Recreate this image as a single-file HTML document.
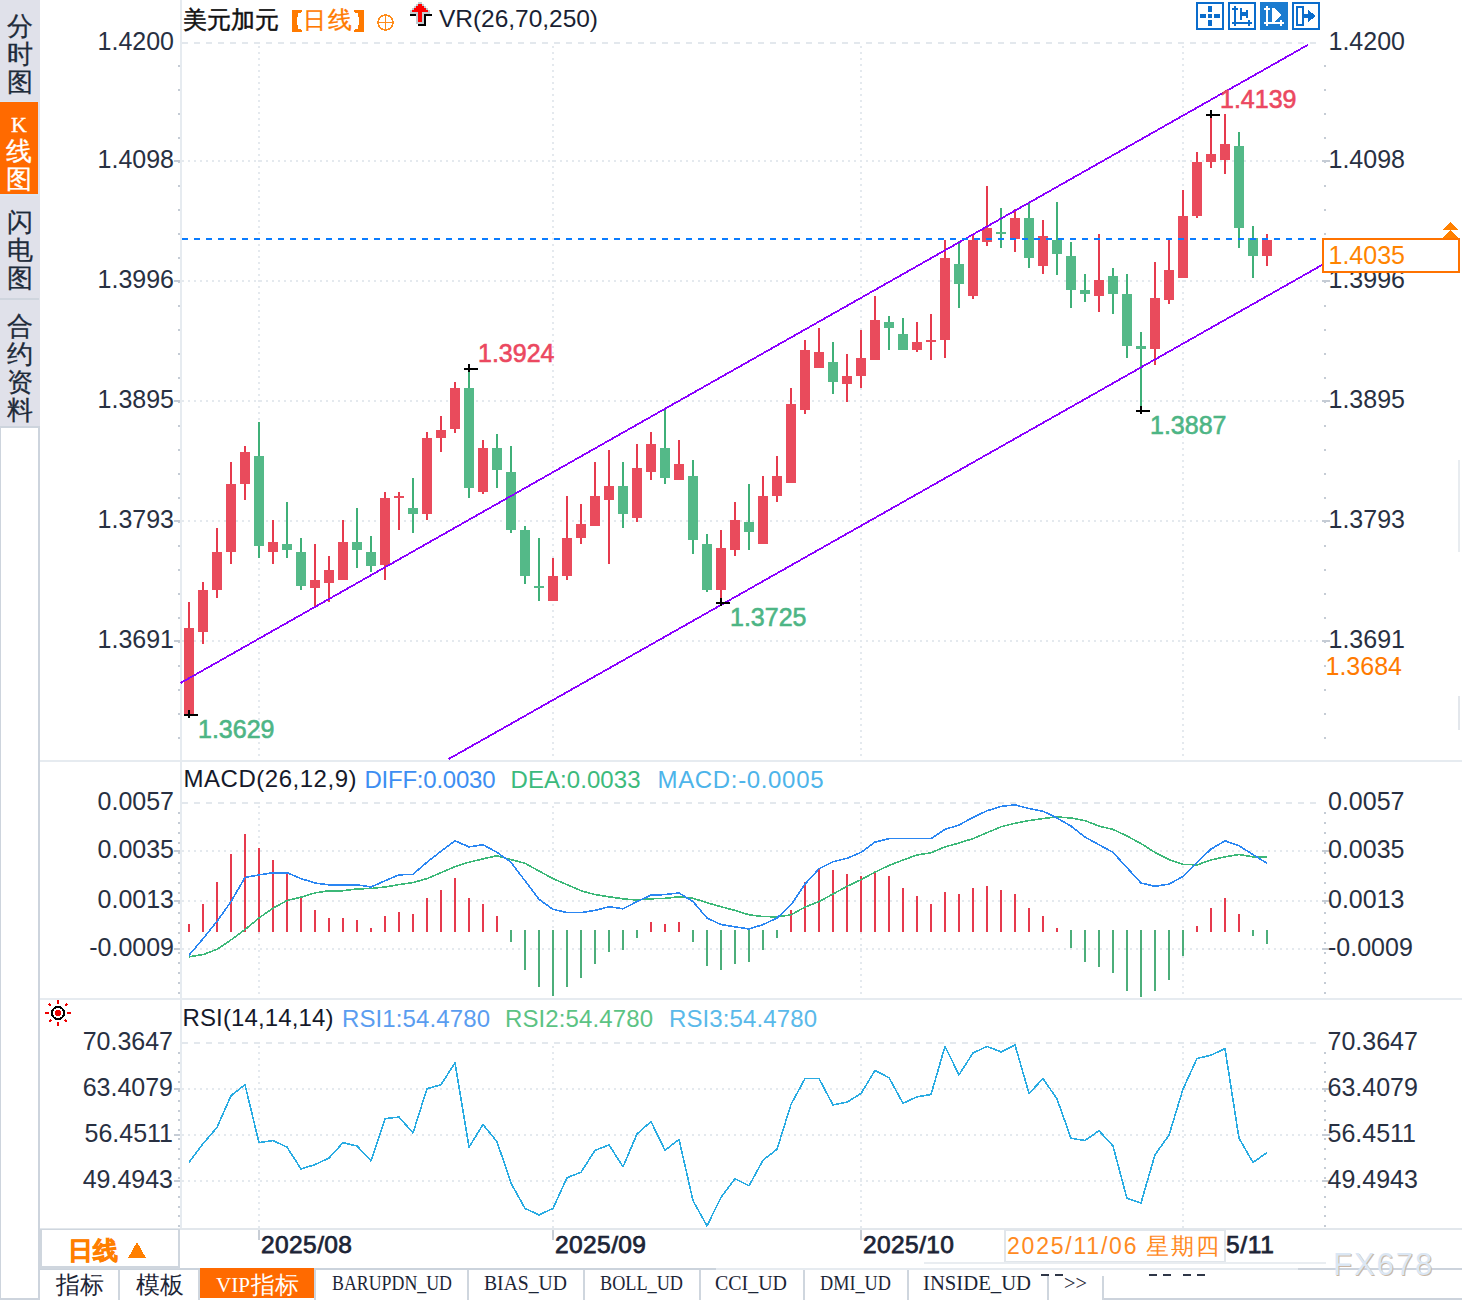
<!DOCTYPE html>
<html><head><meta charset="utf-8">
<style>
html,body{margin:0;padding:0;background:#fff;width:1462px;height:1300px;overflow:hidden;}
body{position:relative;font-family:"Liberation Sans",sans-serif;}
.a{position:absolute;}
.side{position:absolute;left:0;width:40px;background:#e0e1ea;color:#1e2b3a;-webkit-text-stroke:0.3px;font-size:25.5px;line-height:28px;text-align:center;}
.tab{position:absolute;top:1270px;height:29px;font-size:23px;line-height:29px;color:#1c2536;text-align:center;border-left:2px solid #cfd5dd;box-sizing:border-box;}
.mono{font-family:"Liberation Mono",monospace;font-size:20px;}
</style></head><body>
<div class="a" style="left:0;top:0;width:40px;height:426px;background:#e0e1ea"></div>
<div class="side" style="top:0;height:101px;"><div style="padding-top:12px">分<br>时<br>图</div></div>
<div class="a" style="left:0;top:101px;width:39px;height:1px;background:#dce6f2"></div>
<div class="side" style="top:102px;height:92px;width:38px;background:#ff6a00;color:#fff;"><div style="padding-top:10px;font-family:'Liberation Serif';font-size:22px;line-height:26px;">K</div><div style="line-height:28px;margin-top:-1px">线<br>图</div></div>
<div class="a" style="left:0;top:194px;width:39px;height:2px;background:#dce6f2"></div>
<div class="side" style="top:196px;height:102px;"><div style="padding-top:12px">闪<br>电<br>图</div></div>
<div class="a" style="left:0;top:298px;width:39px;height:2px;background:#cfd5de"></div>
<div class="side" style="top:300px;height:126px;"><div style="padding-top:12px">合<br>约<br>资<br>料</div></div>
<div class="a" style="left:0;top:426px;width:40px;height:874px;background:#cdd4dd"></div>
<div class="a" style="left:1px;top:428px;width:37px;height:870px;background:#fff"></div>
<svg class="a" style="left:0;top:0" width="1462" height="1300" shape-rendering="crispEdges">
<rect x="40" y="760" width="1422" height="2" fill="#e6ebf0"/>
<rect x="40" y="998" width="1422" height="2" fill="#e6ebf0"/>
<rect x="40" y="1228" width="1422" height="2" fill="#e2e7ec"/>
<rect x="180" y="0" width="2" height="1228" fill="#e6ebf0"/>
<line x1="182" y1="43" x2="1322" y2="43" stroke="#e3e8ed" stroke-width="2" stroke-dasharray="6 6"/>
<line x1="182" y1="161" x2="1322" y2="161" stroke="#e4e9ee" stroke-width="2" stroke-dasharray="2 4"/>
<line x1="182" y1="281" x2="1322" y2="281" stroke="#e4e9ee" stroke-width="2" stroke-dasharray="2 4"/>
<line x1="182" y1="401" x2="1322" y2="401" stroke="#e4e9ee" stroke-width="2" stroke-dasharray="2 4"/>
<line x1="182" y1="521" x2="1322" y2="521" stroke="#e4e9ee" stroke-width="2" stroke-dasharray="2 4"/>
<line x1="182" y1="641" x2="1322" y2="641" stroke="#e4e9ee" stroke-width="2" stroke-dasharray="2 4"/>
<line x1="182" y1="803" x2="1322" y2="803" stroke="#e3e8ed" stroke-width="2" stroke-dasharray="6 6"/>
<line x1="182" y1="851" x2="1322" y2="851" stroke="#e4e9ee" stroke-width="2" stroke-dasharray="2 4"/>
<line x1="182" y1="901" x2="1322" y2="901" stroke="#e4e9ee" stroke-width="2" stroke-dasharray="2 4"/>
<line x1="182" y1="949" x2="1322" y2="949" stroke="#e4e9ee" stroke-width="2" stroke-dasharray="2 4"/>
<line x1="182" y1="1043" x2="1322" y2="1043" stroke="#e3e8ed" stroke-width="2" stroke-dasharray="6 6"/>
<line x1="182" y1="1089" x2="1322" y2="1089" stroke="#e4e9ee" stroke-width="2" stroke-dasharray="2 4"/>
<line x1="182" y1="1135" x2="1322" y2="1135" stroke="#e4e9ee" stroke-width="2" stroke-dasharray="2 4"/>
<line x1="182" y1="1181" x2="1322" y2="1181" stroke="#e4e9ee" stroke-width="2" stroke-dasharray="2 4"/>
<line x1="259" y1="46" x2="259" y2="760" stroke="#e4e9ee" stroke-width="2" stroke-dasharray="2 4"/>
<line x1="259" y1="806" x2="259" y2="998" stroke="#e4e9ee" stroke-width="2" stroke-dasharray="2 4"/>
<line x1="259" y1="1046" x2="259" y2="1228" stroke="#e4e9ee" stroke-width="2" stroke-dasharray="2 4"/>
<line x1="553" y1="46" x2="553" y2="760" stroke="#e4e9ee" stroke-width="2" stroke-dasharray="2 4"/>
<line x1="553" y1="806" x2="553" y2="998" stroke="#e4e9ee" stroke-width="2" stroke-dasharray="2 4"/>
<line x1="553" y1="1046" x2="553" y2="1228" stroke="#e4e9ee" stroke-width="2" stroke-dasharray="2 4"/>
<line x1="861" y1="46" x2="861" y2="760" stroke="#e4e9ee" stroke-width="2" stroke-dasharray="2 4"/>
<line x1="861" y1="806" x2="861" y2="998" stroke="#e4e9ee" stroke-width="2" stroke-dasharray="2 4"/>
<line x1="861" y1="1046" x2="861" y2="1228" stroke="#e4e9ee" stroke-width="2" stroke-dasharray="2 4"/>
<line x1="1183" y1="46" x2="1183" y2="760" stroke="#e4e9ee" stroke-width="2" stroke-dasharray="2 4"/>
<line x1="1183" y1="806" x2="1183" y2="998" stroke="#e4e9ee" stroke-width="2" stroke-dasharray="2 4"/>
<line x1="1183" y1="1046" x2="1183" y2="1228" stroke="#e4e9ee" stroke-width="2" stroke-dasharray="2 4"/>
<rect x="174" y="160" width="6" height="2" fill="#c5ccd5"/>
<rect x="174" y="280" width="6" height="2" fill="#c5ccd5"/>
<rect x="174" y="400" width="6" height="2" fill="#c5ccd5"/>
<rect x="174" y="520" width="6" height="2" fill="#c5ccd5"/>
<rect x="174" y="640" width="6" height="2" fill="#c5ccd5"/>
<rect x="174" y="850" width="6" height="2" fill="#c5ccd5"/>
<rect x="174" y="900" width="6" height="2" fill="#c5ccd5"/>
<rect x="174" y="948" width="6" height="2" fill="#c5ccd5"/>
<rect x="174" y="1088" width="6" height="2" fill="#c5ccd5"/>
<rect x="174" y="1134" width="6" height="2" fill="#c5ccd5"/>
<rect x="174" y="1180" width="6" height="2" fill="#c5ccd5"/>
<rect x="178" y="65" width="2" height="2" fill="#c5ccd5"/>
<rect x="178" y="89" width="2" height="2" fill="#c5ccd5"/>
<rect x="178" y="113" width="2" height="2" fill="#c5ccd5"/>
<rect x="178" y="137" width="2" height="2" fill="#c5ccd5"/>
<rect x="178" y="161" width="2" height="2" fill="#c5ccd5"/>
<rect x="178" y="185" width="2" height="2" fill="#c5ccd5"/>
<rect x="178" y="209" width="2" height="2" fill="#c5ccd5"/>
<rect x="178" y="233" width="2" height="2" fill="#c5ccd5"/>
<rect x="178" y="257" width="2" height="2" fill="#c5ccd5"/>
<rect x="178" y="281" width="2" height="2" fill="#c5ccd5"/>
<rect x="178" y="305" width="2" height="2" fill="#c5ccd5"/>
<rect x="178" y="329" width="2" height="2" fill="#c5ccd5"/>
<rect x="178" y="353" width="2" height="2" fill="#c5ccd5"/>
<rect x="178" y="377" width="2" height="2" fill="#c5ccd5"/>
<rect x="178" y="401" width="2" height="2" fill="#c5ccd5"/>
<rect x="178" y="425" width="2" height="2" fill="#c5ccd5"/>
<rect x="178" y="449" width="2" height="2" fill="#c5ccd5"/>
<rect x="178" y="473" width="2" height="2" fill="#c5ccd5"/>
<rect x="178" y="497" width="2" height="2" fill="#c5ccd5"/>
<rect x="178" y="521" width="2" height="2" fill="#c5ccd5"/>
<rect x="178" y="545" width="2" height="2" fill="#c5ccd5"/>
<rect x="178" y="569" width="2" height="2" fill="#c5ccd5"/>
<rect x="178" y="593" width="2" height="2" fill="#c5ccd5"/>
<rect x="178" y="617" width="2" height="2" fill="#c5ccd5"/>
<rect x="178" y="641" width="2" height="2" fill="#c5ccd5"/>
<rect x="178" y="665" width="2" height="2" fill="#c5ccd5"/>
<rect x="178" y="689" width="2" height="2" fill="#c5ccd5"/>
<rect x="178" y="713" width="2" height="2" fill="#c5ccd5"/>
<rect x="178" y="737" width="2" height="2" fill="#c5ccd5"/>
<rect x="178" y="812" width="2" height="2" fill="#c5ccd5"/>
<rect x="178" y="822" width="2" height="2" fill="#c5ccd5"/>
<rect x="178" y="832" width="2" height="2" fill="#c5ccd5"/>
<rect x="178" y="842" width="2" height="2" fill="#c5ccd5"/>
<rect x="178" y="852" width="2" height="2" fill="#c5ccd5"/>
<rect x="178" y="862" width="2" height="2" fill="#c5ccd5"/>
<rect x="178" y="872" width="2" height="2" fill="#c5ccd5"/>
<rect x="178" y="882" width="2" height="2" fill="#c5ccd5"/>
<rect x="178" y="892" width="2" height="2" fill="#c5ccd5"/>
<rect x="178" y="902" width="2" height="2" fill="#c5ccd5"/>
<rect x="178" y="912" width="2" height="2" fill="#c5ccd5"/>
<rect x="178" y="922" width="2" height="2" fill="#c5ccd5"/>
<rect x="178" y="932" width="2" height="2" fill="#c5ccd5"/>
<rect x="178" y="942" width="2" height="2" fill="#c5ccd5"/>
<rect x="178" y="952" width="2" height="2" fill="#c5ccd5"/>
<rect x="178" y="962" width="2" height="2" fill="#c5ccd5"/>
<rect x="178" y="972" width="2" height="2" fill="#c5ccd5"/>
<rect x="178" y="982" width="2" height="2" fill="#c5ccd5"/>
<rect x="178" y="992" width="2" height="2" fill="#c5ccd5"/>
<rect x="178" y="1052" width="2" height="2" fill="#c5ccd5"/>
<rect x="178" y="1061.6" width="2" height="2" fill="#c5ccd5"/>
<rect x="178" y="1071.1999999999998" width="2" height="2" fill="#c5ccd5"/>
<rect x="178" y="1080.7999999999997" width="2" height="2" fill="#c5ccd5"/>
<rect x="178" y="1090.3999999999996" width="2" height="2" fill="#c5ccd5"/>
<rect x="178" y="1099.9999999999995" width="2" height="2" fill="#c5ccd5"/>
<rect x="178" y="1109.5999999999995" width="2" height="2" fill="#c5ccd5"/>
<rect x="178" y="1119.1999999999994" width="2" height="2" fill="#c5ccd5"/>
<rect x="178" y="1128.7999999999993" width="2" height="2" fill="#c5ccd5"/>
<rect x="178" y="1138.3999999999992" width="2" height="2" fill="#c5ccd5"/>
<rect x="178" y="1147.999999999999" width="2" height="2" fill="#c5ccd5"/>
<rect x="178" y="1157.599999999999" width="2" height="2" fill="#c5ccd5"/>
<rect x="178" y="1167.199999999999" width="2" height="2" fill="#c5ccd5"/>
<rect x="178" y="1176.7999999999988" width="2" height="2" fill="#c5ccd5"/>
<rect x="178" y="1186.3999999999987" width="2" height="2" fill="#c5ccd5"/>
<rect x="178" y="1195.9999999999986" width="2" height="2" fill="#c5ccd5"/>
<rect x="178" y="1205.5999999999985" width="2" height="2" fill="#c5ccd5"/>
<rect x="178" y="1215.1999999999985" width="2" height="2" fill="#c5ccd5"/>
<rect x="178" y="1224.7999999999984" width="2" height="2" fill="#c5ccd5"/>
<rect x="1322" y="160" width="8" height="2" fill="#c5ccd5"/>
<rect x="1322" y="280" width="8" height="2" fill="#c5ccd5"/>
<rect x="1322" y="400" width="8" height="2" fill="#c5ccd5"/>
<rect x="1322" y="520" width="8" height="2" fill="#c5ccd5"/>
<rect x="1322" y="640" width="8" height="2" fill="#c5ccd5"/>
<rect x="1322" y="850" width="8" height="2" fill="#c5ccd5"/>
<rect x="1322" y="900" width="8" height="2" fill="#c5ccd5"/>
<rect x="1322" y="948" width="8" height="2" fill="#c5ccd5"/>
<rect x="1322" y="1088" width="8" height="2" fill="#c5ccd5"/>
<rect x="1322" y="1134" width="8" height="2" fill="#c5ccd5"/>
<rect x="1322" y="1180" width="8" height="2" fill="#c5ccd5"/>
<rect x="1324" y="65" width="2" height="2" fill="#c5ccd5"/>
<rect x="1324" y="89" width="2" height="2" fill="#c5ccd5"/>
<rect x="1324" y="113" width="2" height="2" fill="#c5ccd5"/>
<rect x="1324" y="137" width="2" height="2" fill="#c5ccd5"/>
<rect x="1324" y="161" width="2" height="2" fill="#c5ccd5"/>
<rect x="1324" y="185" width="2" height="2" fill="#c5ccd5"/>
<rect x="1324" y="209" width="2" height="2" fill="#c5ccd5"/>
<rect x="1324" y="233" width="2" height="2" fill="#c5ccd5"/>
<rect x="1324" y="257" width="2" height="2" fill="#c5ccd5"/>
<rect x="1324" y="281" width="2" height="2" fill="#c5ccd5"/>
<rect x="1324" y="305" width="2" height="2" fill="#c5ccd5"/>
<rect x="1324" y="329" width="2" height="2" fill="#c5ccd5"/>
<rect x="1324" y="353" width="2" height="2" fill="#c5ccd5"/>
<rect x="1324" y="377" width="2" height="2" fill="#c5ccd5"/>
<rect x="1324" y="401" width="2" height="2" fill="#c5ccd5"/>
<rect x="1324" y="425" width="2" height="2" fill="#c5ccd5"/>
<rect x="1324" y="449" width="2" height="2" fill="#c5ccd5"/>
<rect x="1324" y="473" width="2" height="2" fill="#c5ccd5"/>
<rect x="1324" y="497" width="2" height="2" fill="#c5ccd5"/>
<rect x="1324" y="521" width="2" height="2" fill="#c5ccd5"/>
<rect x="1324" y="545" width="2" height="2" fill="#c5ccd5"/>
<rect x="1324" y="569" width="2" height="2" fill="#c5ccd5"/>
<rect x="1324" y="593" width="2" height="2" fill="#c5ccd5"/>
<rect x="1324" y="617" width="2" height="2" fill="#c5ccd5"/>
<rect x="1324" y="641" width="2" height="2" fill="#c5ccd5"/>
<rect x="1324" y="665" width="2" height="2" fill="#c5ccd5"/>
<rect x="1324" y="689" width="2" height="2" fill="#c5ccd5"/>
<rect x="1324" y="713" width="2" height="2" fill="#c5ccd5"/>
<rect x="1324" y="737" width="2" height="2" fill="#c5ccd5"/>
<rect x="1324" y="812" width="2" height="2" fill="#c5ccd5"/>
<rect x="1324" y="822" width="2" height="2" fill="#c5ccd5"/>
<rect x="1324" y="832" width="2" height="2" fill="#c5ccd5"/>
<rect x="1324" y="842" width="2" height="2" fill="#c5ccd5"/>
<rect x="1324" y="852" width="2" height="2" fill="#c5ccd5"/>
<rect x="1324" y="862" width="2" height="2" fill="#c5ccd5"/>
<rect x="1324" y="872" width="2" height="2" fill="#c5ccd5"/>
<rect x="1324" y="882" width="2" height="2" fill="#c5ccd5"/>
<rect x="1324" y="892" width="2" height="2" fill="#c5ccd5"/>
<rect x="1324" y="902" width="2" height="2" fill="#c5ccd5"/>
<rect x="1324" y="912" width="2" height="2" fill="#c5ccd5"/>
<rect x="1324" y="922" width="2" height="2" fill="#c5ccd5"/>
<rect x="1324" y="932" width="2" height="2" fill="#c5ccd5"/>
<rect x="1324" y="942" width="2" height="2" fill="#c5ccd5"/>
<rect x="1324" y="952" width="2" height="2" fill="#c5ccd5"/>
<rect x="1324" y="962" width="2" height="2" fill="#c5ccd5"/>
<rect x="1324" y="972" width="2" height="2" fill="#c5ccd5"/>
<rect x="1324" y="982" width="2" height="2" fill="#c5ccd5"/>
<rect x="1324" y="992" width="2" height="2" fill="#c5ccd5"/>
<rect x="1324" y="1052" width="2" height="2" fill="#c5ccd5"/>
<rect x="1324" y="1061.6" width="2" height="2" fill="#c5ccd5"/>
<rect x="1324" y="1071.1999999999998" width="2" height="2" fill="#c5ccd5"/>
<rect x="1324" y="1080.7999999999997" width="2" height="2" fill="#c5ccd5"/>
<rect x="1324" y="1090.3999999999996" width="2" height="2" fill="#c5ccd5"/>
<rect x="1324" y="1099.9999999999995" width="2" height="2" fill="#c5ccd5"/>
<rect x="1324" y="1109.5999999999995" width="2" height="2" fill="#c5ccd5"/>
<rect x="1324" y="1119.1999999999994" width="2" height="2" fill="#c5ccd5"/>
<rect x="1324" y="1128.7999999999993" width="2" height="2" fill="#c5ccd5"/>
<rect x="1324" y="1138.3999999999992" width="2" height="2" fill="#c5ccd5"/>
<rect x="1324" y="1147.999999999999" width="2" height="2" fill="#c5ccd5"/>
<rect x="1324" y="1157.599999999999" width="2" height="2" fill="#c5ccd5"/>
<rect x="1324" y="1167.199999999999" width="2" height="2" fill="#c5ccd5"/>
<rect x="1324" y="1176.7999999999988" width="2" height="2" fill="#c5ccd5"/>
<rect x="1324" y="1186.3999999999987" width="2" height="2" fill="#c5ccd5"/>
<rect x="1324" y="1195.9999999999986" width="2" height="2" fill="#c5ccd5"/>
<rect x="1324" y="1205.5999999999985" width="2" height="2" fill="#c5ccd5"/>
<rect x="1324" y="1215.1999999999985" width="2" height="2" fill="#c5ccd5"/>
<rect x="1324" y="1224.7999999999984" width="2" height="2" fill="#c5ccd5"/>
<text x="174" y="50" font-family="Liberation Sans" font-size="25" fill="#283042" text-anchor="end" font-weight="normal">1.4200</text>
<text x="1328.5" y="50" font-family="Liberation Sans" font-size="25" fill="#283042" text-anchor="start" font-weight="normal">1.4200</text>
<text x="174" y="168" font-family="Liberation Sans" font-size="25" fill="#283042" text-anchor="end" font-weight="normal">1.4098</text>
<text x="1328.5" y="168" font-family="Liberation Sans" font-size="25" fill="#283042" text-anchor="start" font-weight="normal">1.4098</text>
<text x="174" y="288" font-family="Liberation Sans" font-size="25" fill="#283042" text-anchor="end" font-weight="normal">1.3996</text>
<text x="1328.5" y="288" font-family="Liberation Sans" font-size="25" fill="#283042" text-anchor="start" font-weight="normal">1.3996</text>
<text x="174" y="408" font-family="Liberation Sans" font-size="25" fill="#283042" text-anchor="end" font-weight="normal">1.3895</text>
<text x="1328.5" y="408" font-family="Liberation Sans" font-size="25" fill="#283042" text-anchor="start" font-weight="normal">1.3895</text>
<text x="174" y="528" font-family="Liberation Sans" font-size="25" fill="#283042" text-anchor="end" font-weight="normal">1.3793</text>
<text x="1328.5" y="528" font-family="Liberation Sans" font-size="25" fill="#283042" text-anchor="start" font-weight="normal">1.3793</text>
<text x="174" y="648" font-family="Liberation Sans" font-size="25" fill="#283042" text-anchor="end" font-weight="normal">1.3691</text>
<text x="1328.5" y="648" font-family="Liberation Sans" font-size="25" fill="#283042" text-anchor="start" font-weight="normal">1.3691</text>
<text x="174" y="810" font-family="Liberation Sans" font-size="25" fill="#283042" text-anchor="end" font-weight="normal">0.0057</text>
<text x="1328" y="810" font-family="Liberation Sans" font-size="25" fill="#283042" text-anchor="start" font-weight="normal">0.0057</text>
<text x="174" y="858" font-family="Liberation Sans" font-size="25" fill="#283042" text-anchor="end" font-weight="normal">0.0035</text>
<text x="1328" y="858" font-family="Liberation Sans" font-size="25" fill="#283042" text-anchor="start" font-weight="normal">0.0035</text>
<text x="174" y="908" font-family="Liberation Sans" font-size="25" fill="#283042" text-anchor="end" font-weight="normal">0.0013</text>
<text x="1328" y="908" font-family="Liberation Sans" font-size="25" fill="#283042" text-anchor="start" font-weight="normal">0.0013</text>
<text x="174" y="956" font-family="Liberation Sans" font-size="25" fill="#283042" text-anchor="end" font-weight="normal">-0.0009</text>
<text x="1328" y="956" font-family="Liberation Sans" font-size="25" fill="#283042" text-anchor="start" font-weight="normal">-0.0009</text>
<text x="173" y="1050" font-family="Liberation Sans" font-size="25" fill="#283042" text-anchor="end" font-weight="normal">70.3647</text>
<text x="1327.5" y="1050" font-family="Liberation Sans" font-size="25" fill="#283042" text-anchor="start" font-weight="normal">70.3647</text>
<text x="173" y="1096" font-family="Liberation Sans" font-size="25" fill="#283042" text-anchor="end" font-weight="normal">63.4079</text>
<text x="1327.5" y="1096" font-family="Liberation Sans" font-size="25" fill="#283042" text-anchor="start" font-weight="normal">63.4079</text>
<text x="173" y="1142" font-family="Liberation Sans" font-size="25" fill="#283042" text-anchor="end" font-weight="normal">56.4511</text>
<text x="1327.5" y="1142" font-family="Liberation Sans" font-size="25" fill="#283042" text-anchor="start" font-weight="normal">56.4511</text>
<text x="173" y="1188" font-family="Liberation Sans" font-size="25" fill="#283042" text-anchor="end" font-weight="normal">49.4943</text>
<text x="1327.5" y="1188" font-family="Liberation Sans" font-size="25" fill="#283042" text-anchor="start" font-weight="normal">49.4943</text>
<rect x="188" y="602" width="2" height="113" fill="#e63a4d"/>
<rect x="184" y="628" width="10" height="87" fill="#e94b5c"/>
<rect x="202" y="582" width="2" height="62" fill="#e63a4d"/>
<rect x="198" y="590" width="10" height="42" fill="#e94b5c"/>
<rect x="216" y="528" width="2" height="70" fill="#e63a4d"/>
<rect x="212" y="552" width="10" height="38" fill="#e94b5c"/>
<rect x="230" y="462" width="2" height="102" fill="#e63a4d"/>
<rect x="226" y="484" width="10" height="68" fill="#e94b5c"/>
<rect x="244" y="446" width="2" height="54" fill="#e63a4d"/>
<rect x="240" y="452" width="10" height="32" fill="#e94b5c"/>
<rect x="258" y="422" width="2" height="136" fill="#3fb078"/>
<rect x="254" y="456" width="10" height="90" fill="#54b988"/>
<rect x="272" y="520" width="2" height="44" fill="#e63a4d"/>
<rect x="268" y="542" width="10" height="10" fill="#e94b5c"/>
<rect x="286" y="502" width="2" height="56" fill="#3fb078"/>
<rect x="282" y="544" width="10" height="6" fill="#54b988"/>
<rect x="300" y="538" width="2" height="52" fill="#3fb078"/>
<rect x="296" y="552" width="10" height="34" fill="#54b988"/>
<rect x="314" y="544" width="2" height="62" fill="#e63a4d"/>
<rect x="310" y="580" width="10" height="8" fill="#e94b5c"/>
<rect x="328" y="556" width="2" height="46" fill="#e63a4d"/>
<rect x="324" y="570" width="10" height="13" fill="#e94b5c"/>
<rect x="342" y="520" width="2" height="60" fill="#e63a4d"/>
<rect x="338" y="542" width="10" height="38" fill="#e94b5c"/>
<rect x="356" y="508" width="2" height="60" fill="#3fb078"/>
<rect x="352" y="542" width="10" height="8" fill="#54b988"/>
<rect x="370" y="536" width="2" height="36" fill="#3fb078"/>
<rect x="366" y="552" width="10" height="14" fill="#54b988"/>
<rect x="384" y="492" width="2" height="88" fill="#e63a4d"/>
<rect x="380" y="498" width="10" height="67" fill="#e94b5c"/>
<rect x="398" y="492" width="2" height="38" fill="#e63a4d"/>
<rect x="394" y="496" width="10" height="2" fill="#e94b5c"/>
<rect x="412" y="478" width="2" height="55" fill="#3fb078"/>
<rect x="408" y="508" width="10" height="6" fill="#54b988"/>
<rect x="426" y="432" width="2" height="88" fill="#e63a4d"/>
<rect x="422" y="438" width="10" height="76" fill="#e94b5c"/>
<rect x="440" y="416" width="2" height="36" fill="#e63a4d"/>
<rect x="436" y="430" width="10" height="8" fill="#e94b5c"/>
<rect x="454" y="382" width="2" height="51" fill="#e63a4d"/>
<rect x="450" y="388" width="10" height="41" fill="#e94b5c"/>
<rect x="468" y="368" width="2" height="130" fill="#3fb078"/>
<rect x="464" y="388" width="10" height="100" fill="#54b988"/>
<rect x="482" y="440" width="2" height="54" fill="#e63a4d"/>
<rect x="478" y="448" width="10" height="44" fill="#e94b5c"/>
<rect x="496" y="434" width="2" height="54" fill="#3fb078"/>
<rect x="492" y="448" width="10" height="22" fill="#54b988"/>
<rect x="510" y="446" width="2" height="87" fill="#3fb078"/>
<rect x="506" y="472" width="10" height="58" fill="#54b988"/>
<rect x="524" y="526" width="2" height="58" fill="#3fb078"/>
<rect x="520" y="530" width="10" height="46" fill="#54b988"/>
<rect x="538" y="538" width="2" height="63" fill="#3fb078"/>
<rect x="534" y="586" width="10" height="2" fill="#54b988"/>
<rect x="552" y="558" width="2" height="43" fill="#e63a4d"/>
<rect x="548" y="576" width="10" height="25" fill="#e94b5c"/>
<rect x="566" y="496" width="2" height="84" fill="#e63a4d"/>
<rect x="562" y="538" width="10" height="38" fill="#e94b5c"/>
<rect x="580" y="504" width="2" height="40" fill="#e63a4d"/>
<rect x="576" y="524" width="10" height="14" fill="#e94b5c"/>
<rect x="594" y="462" width="2" height="64" fill="#e63a4d"/>
<rect x="590" y="496" width="10" height="30" fill="#e94b5c"/>
<rect x="608" y="450" width="2" height="114" fill="#e63a4d"/>
<rect x="604" y="486" width="10" height="14" fill="#e94b5c"/>
<rect x="622" y="462" width="2" height="66" fill="#3fb078"/>
<rect x="618" y="486" width="10" height="28" fill="#54b988"/>
<rect x="636" y="444" width="2" height="78" fill="#e63a4d"/>
<rect x="632" y="468" width="10" height="50" fill="#e94b5c"/>
<rect x="650" y="432" width="2" height="48" fill="#e63a4d"/>
<rect x="646" y="444" width="10" height="28" fill="#e94b5c"/>
<rect x="664" y="409" width="2" height="75" fill="#3fb078"/>
<rect x="660" y="448" width="10" height="30" fill="#54b988"/>
<rect x="678" y="440" width="2" height="40" fill="#e63a4d"/>
<rect x="674" y="464" width="10" height="16" fill="#e94b5c"/>
<rect x="692" y="460" width="2" height="94" fill="#3fb078"/>
<rect x="688" y="476" width="10" height="64" fill="#54b988"/>
<rect x="706" y="534" width="2" height="58" fill="#3fb078"/>
<rect x="702" y="544" width="10" height="46" fill="#54b988"/>
<rect x="720" y="530" width="2" height="72" fill="#e63a4d"/>
<rect x="716" y="548" width="10" height="42" fill="#e94b5c"/>
<rect x="734" y="502" width="2" height="54" fill="#e63a4d"/>
<rect x="730" y="520" width="10" height="30" fill="#e94b5c"/>
<rect x="748" y="484" width="2" height="66" fill="#3fb078"/>
<rect x="744" y="522" width="10" height="10" fill="#54b988"/>
<rect x="762" y="476" width="2" height="68" fill="#e63a4d"/>
<rect x="758" y="496" width="10" height="48" fill="#e94b5c"/>
<rect x="776" y="456" width="2" height="46" fill="#e63a4d"/>
<rect x="772" y="476" width="10" height="20" fill="#e94b5c"/>
<rect x="790" y="388" width="2" height="95" fill="#e63a4d"/>
<rect x="786" y="404" width="10" height="79" fill="#e94b5c"/>
<rect x="804" y="340" width="2" height="74" fill="#e63a4d"/>
<rect x="800" y="350" width="10" height="60" fill="#e94b5c"/>
<rect x="818" y="328" width="2" height="40" fill="#e63a4d"/>
<rect x="814" y="352" width="10" height="16" fill="#e94b5c"/>
<rect x="832" y="342" width="2" height="52" fill="#3fb078"/>
<rect x="828" y="362" width="10" height="20" fill="#54b988"/>
<rect x="846" y="354" width="2" height="48" fill="#e63a4d"/>
<rect x="842" y="376" width="10" height="8" fill="#e94b5c"/>
<rect x="860" y="330" width="2" height="58" fill="#e63a4d"/>
<rect x="856" y="358" width="10" height="18" fill="#e94b5c"/>
<rect x="874" y="296" width="2" height="64" fill="#e63a4d"/>
<rect x="870" y="320" width="10" height="40" fill="#e94b5c"/>
<rect x="888" y="316" width="2" height="34" fill="#3fb078"/>
<rect x="884" y="322" width="10" height="6" fill="#54b988"/>
<rect x="902" y="318" width="2" height="32" fill="#3fb078"/>
<rect x="898" y="334" width="10" height="16" fill="#54b988"/>
<rect x="916" y="322" width="2" height="30" fill="#e63a4d"/>
<rect x="912" y="342" width="10" height="8" fill="#e94b5c"/>
<rect x="930" y="314" width="2" height="46" fill="#e63a4d"/>
<rect x="926" y="340" width="10" height="2" fill="#e94b5c"/>
<rect x="944" y="240" width="2" height="118" fill="#e63a4d"/>
<rect x="940" y="258" width="10" height="82" fill="#e94b5c"/>
<rect x="958" y="241" width="2" height="67" fill="#3fb078"/>
<rect x="954" y="264" width="10" height="20" fill="#54b988"/>
<rect x="972" y="234" width="2" height="65" fill="#e63a4d"/>
<rect x="968" y="240" width="10" height="56" fill="#e94b5c"/>
<rect x="986" y="186" width="2" height="60" fill="#e63a4d"/>
<rect x="982" y="228" width="10" height="14" fill="#e94b5c"/>
<rect x="1000" y="208" width="2" height="40" fill="#3fb078"/>
<rect x="996" y="232" width="10" height="2" fill="#54b988"/>
<rect x="1014" y="209" width="2" height="43" fill="#e63a4d"/>
<rect x="1010" y="218" width="10" height="21" fill="#e94b5c"/>
<rect x="1028" y="202" width="2" height="66" fill="#3fb078"/>
<rect x="1024" y="218" width="10" height="40" fill="#54b988"/>
<rect x="1042" y="220" width="2" height="54" fill="#e63a4d"/>
<rect x="1038" y="236" width="10" height="30" fill="#e94b5c"/>
<rect x="1056" y="202" width="2" height="73" fill="#3fb078"/>
<rect x="1052" y="240" width="10" height="14" fill="#54b988"/>
<rect x="1070" y="242" width="2" height="66" fill="#3fb078"/>
<rect x="1066" y="256" width="10" height="34" fill="#54b988"/>
<rect x="1084" y="274" width="2" height="28" fill="#3fb078"/>
<rect x="1080" y="290" width="10" height="4" fill="#54b988"/>
<rect x="1098" y="234" width="2" height="78" fill="#e63a4d"/>
<rect x="1094" y="280" width="10" height="16" fill="#e94b5c"/>
<rect x="1112" y="268" width="2" height="46" fill="#3fb078"/>
<rect x="1108" y="276" width="10" height="18" fill="#54b988"/>
<rect x="1126" y="274" width="2" height="84" fill="#3fb078"/>
<rect x="1122" y="294" width="10" height="52" fill="#54b988"/>
<rect x="1140" y="332" width="2" height="80" fill="#3fb078"/>
<rect x="1136" y="346" width="10" height="3" fill="#54b988"/>
<rect x="1154" y="262" width="2" height="103" fill="#e63a4d"/>
<rect x="1150" y="298" width="10" height="51" fill="#e94b5c"/>
<rect x="1168" y="240" width="2" height="64" fill="#e63a4d"/>
<rect x="1164" y="270" width="10" height="30" fill="#e94b5c"/>
<rect x="1182" y="190" width="2" height="88" fill="#e63a4d"/>
<rect x="1178" y="216" width="10" height="62" fill="#e94b5c"/>
<rect x="1196" y="152" width="2" height="66" fill="#e63a4d"/>
<rect x="1192" y="162" width="10" height="54" fill="#e94b5c"/>
<rect x="1210" y="115" width="2" height="53" fill="#e63a4d"/>
<rect x="1206" y="154" width="10" height="8" fill="#e94b5c"/>
<rect x="1224" y="114" width="2" height="60" fill="#e63a4d"/>
<rect x="1220" y="144" width="10" height="16" fill="#e94b5c"/>
<rect x="1238" y="132" width="2" height="116" fill="#3fb078"/>
<rect x="1234" y="146" width="10" height="82" fill="#54b988"/>
<rect x="1252" y="226" width="2" height="52" fill="#3fb078"/>
<rect x="1248" y="238" width="10" height="18" fill="#54b988"/>
<rect x="1266" y="234" width="2" height="32" fill="#e63a4d"/>
<rect x="1262" y="240" width="10" height="16" fill="#e94b5c"/>
<line x1="180.6" y1="683" x2="1308" y2="44.8" stroke="#8a00ff" stroke-width="1.8"/>
<line x1="448.7" y1="759" x2="1322" y2="265" stroke="#8a00ff" stroke-width="1.8"/>
<line x1="182" y1="239" x2="1322" y2="239" stroke="#0a7cff" stroke-width="2" stroke-dasharray="6 6"/>
<rect x="184" y="714" width="14" height="2" fill="#000"/>
<rect x="188" y="710" width="2" height="8" fill="#000"/>
<rect x="464" y="368" width="14" height="2" fill="#000"/>
<rect x="468" y="364" width="2" height="8" fill="#000"/>
<rect x="716" y="602" width="14" height="2" fill="#000"/>
<rect x="720" y="598" width="2" height="8" fill="#000"/>
<rect x="1136" y="410" width="14" height="2" fill="#000"/>
<rect x="1140" y="406" width="2" height="8" fill="#000"/>
<rect x="1206" y="114" width="14" height="2" fill="#000"/>
<rect x="1210" y="110" width="2" height="8" fill="#000"/>
<text x="198" y="738" font-family="Liberation Sans" font-size="25" fill="#4db585" text-anchor="start" font-weight="normal" stroke="#4db585" stroke-width="0.6">1.3629</text>
<text x="478" y="362" font-family="Liberation Sans" font-size="25" fill="#eb4860" text-anchor="start" font-weight="normal" stroke="#eb4860" stroke-width="0.6">1.3924</text>
<text x="730" y="626" font-family="Liberation Sans" font-size="25" fill="#4db585" text-anchor="start" font-weight="normal" stroke="#4db585" stroke-width="0.6">1.3725</text>
<text x="1150" y="434" font-family="Liberation Sans" font-size="25" fill="#4db585" text-anchor="start" font-weight="normal" stroke="#4db585" stroke-width="0.6">1.3887</text>
<text x="1220" y="108" font-family="Liberation Sans" font-size="25" fill="#eb4860" text-anchor="start" font-weight="normal" stroke="#eb4860" stroke-width="0.6">1.4139</text>
<rect x="1323" y="239" width="136" height="33" fill="#fff" stroke="#ff7300" stroke-width="2"/>
<text x="1328.5" y="264" font-family="Liberation Sans" font-size="25" fill="#ff8400" text-anchor="start" font-weight="normal">1.4035</text>
<text x="1325.5" y="675" font-family="Liberation Sans" font-size="25" fill="#ff7a00" text-anchor="start" font-weight="normal">1.3684</text>
<polygon points="1442,230 1450,222 1458,230" fill="#ff8000"/>
<polygon points="1442,238 1450,230 1458,238" fill="#ff8000"/>
<rect x="1458" y="696" width="2" height="34" fill="#e3e7ec"/>
<rect x="1458" y="460" width="2" height="92" fill="#e8ecf0"/>
<rect x="188" y="924" width="2" height="8" fill="#e63a4d"/>
<rect x="202" y="904" width="2" height="28" fill="#e63a4d"/>
<rect x="216" y="882" width="2" height="50" fill="#e63a4d"/>
<rect x="230" y="854" width="2" height="78" fill="#e63a4d"/>
<rect x="244" y="834" width="2" height="98" fill="#e63a4d"/>
<rect x="258" y="848" width="2" height="84" fill="#e63a4d"/>
<rect x="272" y="860" width="2" height="72" fill="#e63a4d"/>
<rect x="286" y="874" width="2" height="58" fill="#e63a4d"/>
<rect x="300" y="896" width="2" height="36" fill="#e63a4d"/>
<rect x="314" y="910" width="2" height="22" fill="#e63a4d"/>
<rect x="328" y="918" width="2" height="14" fill="#e63a4d"/>
<rect x="342" y="918" width="2" height="14" fill="#e63a4d"/>
<rect x="356" y="920" width="2" height="12" fill="#e63a4d"/>
<rect x="370" y="928" width="2" height="4" fill="#e63a4d"/>
<rect x="384" y="916" width="2" height="16" fill="#e63a4d"/>
<rect x="398" y="912" width="2" height="20" fill="#e63a4d"/>
<rect x="412" y="914" width="2" height="18" fill="#e63a4d"/>
<rect x="426" y="898" width="2" height="34" fill="#e63a4d"/>
<rect x="440" y="890" width="2" height="42" fill="#e63a4d"/>
<rect x="454" y="878" width="2" height="54" fill="#e63a4d"/>
<rect x="468" y="898" width="2" height="34" fill="#e63a4d"/>
<rect x="482" y="904" width="2" height="28" fill="#e63a4d"/>
<rect x="496" y="916" width="2" height="16" fill="#e63a4d"/>
<rect x="510" y="930" width="2" height="12" fill="#4cae7a"/>
<rect x="524" y="930" width="2" height="40" fill="#4cae7a"/>
<rect x="538" y="930" width="2" height="57" fill="#4cae7a"/>
<rect x="552" y="930" width="2" height="66" fill="#4cae7a"/>
<rect x="566" y="930" width="2" height="57" fill="#4cae7a"/>
<rect x="580" y="930" width="2" height="48" fill="#4cae7a"/>
<rect x="594" y="930" width="2" height="34" fill="#4cae7a"/>
<rect x="608" y="930" width="2" height="22" fill="#4cae7a"/>
<rect x="622" y="930" width="2" height="20" fill="#4cae7a"/>
<rect x="636" y="930" width="2" height="8" fill="#4cae7a"/>
<rect x="650" y="922" width="2" height="10" fill="#e63a4d"/>
<rect x="664" y="924" width="2" height="8" fill="#e63a4d"/>
<rect x="678" y="922" width="2" height="10" fill="#e63a4d"/>
<rect x="692" y="930" width="2" height="12" fill="#4cae7a"/>
<rect x="706" y="930" width="2" height="36" fill="#4cae7a"/>
<rect x="720" y="930" width="2" height="40" fill="#4cae7a"/>
<rect x="734" y="930" width="2" height="34" fill="#4cae7a"/>
<rect x="748" y="930" width="2" height="32" fill="#4cae7a"/>
<rect x="762" y="930" width="2" height="20" fill="#4cae7a"/>
<rect x="776" y="930" width="2" height="8" fill="#4cae7a"/>
<rect x="790" y="910" width="2" height="22" fill="#e63a4d"/>
<rect x="804" y="882" width="2" height="50" fill="#e63a4d"/>
<rect x="818" y="868" width="2" height="64" fill="#e63a4d"/>
<rect x="832" y="870" width="2" height="62" fill="#e63a4d"/>
<rect x="846" y="874" width="2" height="58" fill="#e63a4d"/>
<rect x="860" y="876" width="2" height="56" fill="#e63a4d"/>
<rect x="874" y="872" width="2" height="60" fill="#e63a4d"/>
<rect x="888" y="876" width="2" height="56" fill="#e63a4d"/>
<rect x="902" y="888" width="2" height="44" fill="#e63a4d"/>
<rect x="916" y="896" width="2" height="36" fill="#e63a4d"/>
<rect x="930" y="904" width="2" height="28" fill="#e63a4d"/>
<rect x="944" y="892" width="2" height="40" fill="#e63a4d"/>
<rect x="958" y="894" width="2" height="38" fill="#e63a4d"/>
<rect x="972" y="888" width="2" height="44" fill="#e63a4d"/>
<rect x="986" y="886" width="2" height="46" fill="#e63a4d"/>
<rect x="1000" y="890" width="2" height="42" fill="#e63a4d"/>
<rect x="1014" y="894" width="2" height="38" fill="#e63a4d"/>
<rect x="1028" y="908" width="2" height="24" fill="#e63a4d"/>
<rect x="1042" y="916" width="2" height="16" fill="#e63a4d"/>
<rect x="1056" y="928" width="2" height="4" fill="#e63a4d"/>
<rect x="1070" y="930" width="2" height="18" fill="#4cae7a"/>
<rect x="1084" y="930" width="2" height="32" fill="#4cae7a"/>
<rect x="1098" y="930" width="2" height="37" fill="#4cae7a"/>
<rect x="1112" y="930" width="2" height="43" fill="#4cae7a"/>
<rect x="1126" y="930" width="2" height="61" fill="#4cae7a"/>
<rect x="1140" y="930" width="2" height="67" fill="#4cae7a"/>
<rect x="1154" y="930" width="2" height="61" fill="#4cae7a"/>
<rect x="1168" y="930" width="2" height="50" fill="#4cae7a"/>
<rect x="1182" y="930" width="2" height="26" fill="#4cae7a"/>
<rect x="1196" y="926" width="2" height="6" fill="#e63a4d"/>
<rect x="1210" y="908" width="2" height="24" fill="#e63a4d"/>
<rect x="1224" y="898" width="2" height="34" fill="#e63a4d"/>
<rect x="1238" y="914" width="2" height="18" fill="#e63a4d"/>
<rect x="1252" y="930" width="2" height="6" fill="#4cae7a"/>
<rect x="1266" y="930" width="2" height="14" fill="#4cae7a"/>
<polyline points="189.0,956.8 203.0,954.6 217.0,949.3 231.0,939.9 245.0,929.6 259.0,918.0 273.0,908.2 287.0,900.5 301.0,897.2 315.0,892.9 329.0,890.7 343.0,890.7 357.0,888.9 371.0,888.5 385.0,887.0 399.0,884.6 413.0,882.6 427.0,878.6 441.0,872.7 455.0,866.6 469.0,862.2 483.0,858.9 497.0,855.7 511.0,859.6 525.0,863.3 539.0,871.0 553.0,878.6 567.0,884.6 581.0,890.7 595.0,894.6 609.0,896.8 623.0,898.8 637.0,900.1 651.0,898.8 665.0,898.3 679.0,896.8 693.0,898.3 707.0,902.7 721.0,906.7 735.0,910.4 749.0,914.8 763.0,916.5 777.0,916.9 791.0,914.8 805.0,907.1 819.0,901.6 833.0,894.0 847.0,886.3 861.0,879.7 875.0,872.1 889.0,865.5 903.0,860.0 917.0,855.0 931.0,852.8 945.0,846.9 959.0,843.0 973.0,838.6 987.0,832.7 1001.0,826.8 1015.0,823.3 1029.0,820.6 1043.0,818.5 1057.0,816.9 1071.0,818.0 1085.0,820.6 1099.0,826.1 1113.0,829.4 1127.0,836.0 1141.0,843.6 1155.0,852.4 1169.0,859.6 1183.0,864.4 1197.0,864.9 1211.0,860.0 1225.0,856.8 1239.0,854.6 1253.0,856.8 1267.0,856.8" fill="none" stroke="#3cb878" stroke-width="1.6" stroke-linejoin="round"/>
<polyline points="189.0,955.2 203.0,938.8 217.0,921.3 231.0,901.6 245.0,877.5 259.0,874.9 273.0,872.7 287.0,872.7 301.0,878.6 315.0,883.0 329.0,884.8 343.0,884.8 357.0,884.8 371.0,887.0 385.0,880.8 399.0,874.9 413.0,874.3 427.0,862.2 441.0,851.3 455.0,840.8 469.0,846.9 483.0,844.7 497.0,852.4 511.0,862.2 525.0,880.8 539.0,899.4 553.0,909.3 567.0,912.6 581.0,912.6 595.0,910.4 609.0,906.7 623.0,908.8 637.0,901.6 651.0,895.1 665.0,894.6 679.0,892.9 693.0,901.6 707.0,918.0 721.0,924.6 735.0,926.8 749.0,929.0 763.0,924.6 777.0,918.0 791.0,904.9 805.0,884.1 819.0,868.8 833.0,861.8 847.0,858.3 861.0,852.4 875.0,842.1 889.0,838.6 903.0,838.6 917.0,838.6 931.0,838.6 945.0,829.4 959.0,825.0 973.0,817.4 987.0,810.8 1001.0,806.4 1015.0,804.9 1029.0,808.6 1043.0,811.2 1057.0,818.0 1071.0,826.1 1085.0,837.1 1099.0,844.7 1113.0,852.4 1127.0,867.7 1141.0,883.0 1155.0,886.3 1169.0,884.1 1183.0,876.5 1197.0,862.2 1211.0,849.1 1225.0,840.8 1239.0,845.8 1253.0,854.6 1267.0,863.3" fill="none" stroke="#2a86f2" stroke-width="1.6" stroke-linejoin="round"/>
<polyline points="189.0,1162.4 203.0,1143.8 217.0,1127.4 231.0,1095.7 245.0,1084.7 259.0,1142.7 273.0,1140.5 287.0,1147.1 301.0,1169.0 315.0,1164.6 329.0,1158.0 343.0,1142.7 357.0,1146.0 371.0,1160.9 385.0,1118.6 399.0,1117.1 413.0,1132.9 427.0,1088.7 441.0,1084.7 455.0,1062.8 469.0,1147.1 483.0,1124.6 497.0,1141.6 511.0,1183.2 525.0,1208.4 539.0,1214.9 553.0,1208.4 567.0,1177.7 581.0,1172.3 595.0,1150.4 609.0,1144.9 623.0,1166.8 637.0,1134.0 651.0,1121.5 665.0,1150.4 679.0,1139.4 693.0,1200.7 707.0,1225.9 721.0,1197.4 735.0,1178.8 749.0,1185.8 763.0,1160.2 777.0,1149.3 791.0,1104.4 805.0,1078.6 819.0,1078.6 833.0,1104.9 847.0,1102.2 861.0,1093.5 875.0,1070.5 889.0,1077.7 903.0,1103.3 917.0,1096.8 931.0,1094.6 945.0,1046.4 959.0,1074.9 973.0,1053.0 987.0,1046.4 1001.0,1051.9 1015.0,1044.9 1029.0,1093.5 1043.0,1078.6 1057.0,1098.9 1071.0,1138.3 1085.0,1140.5 1099.0,1130.7 1113.0,1146.0 1127.0,1198.5 1141.0,1202.9 1155.0,1154.8 1169.0,1135.1 1183.0,1089.1 1197.0,1058.5 1211.0,1055.2 1225.0,1048.6 1239.0,1138.3 1253.0,1162.4 1267.0,1152.6" fill="none" stroke="#29abe2" stroke-width="1.6" stroke-linejoin="round"/>
<text x="182.5" y="28" font-family="Liberation Sans" font-size="24" fill="#111" text-anchor="start" font-weight="normal" stroke="#111" stroke-width="0.5">美元加元</text>
<polygon points="292,10 302,10 302,12 298,13.5 297,21 298,28.5 302,30 302,32 292,32" fill="#ff7a00"/>
<polygon points="364,10 354,10 354,12 358,13.5 359,21 358,28.5 354,30 354,32 364,32" fill="#ff7a00"/>
<text x="303" y="28" font-family="Liberation Sans" font-size="23" fill="#ff7a00" text-anchor="start" font-weight="normal" stroke="#ff7a00" stroke-width="0.3">日</text>
<text x="328" y="28" font-family="Liberation Sans" font-size="23.5" fill="#ff7a00" text-anchor="start" font-weight="normal" stroke="#ff7a00" stroke-width="0.3">线</text>
<circle cx="385.5" cy="22.5" r="7.5" fill="none" stroke="#ff8c1a" stroke-width="1.6"/>
<line x1="378" y1="22.5" x2="393" y2="22.5" stroke="#ff8c1a" stroke-width="1.5"/><line x1="385.5" y1="15" x2="385.5" y2="30" stroke="#ff8c1a" stroke-width="1.5"/>
<path d="M410,14h6v2h-6z M424,14h8v2h-6v10h-8v-2h6z" fill="#000"/>
<path d="M418,2h4v2h2v2h2v2h2v2h2v4h-6v10h-8v-10h-6v-4h2v-2h2v-2h2v-2h2z" fill="#c3ccd0"/>
<path d="M418,4h4v2h2v2h2v2h2v2h-6v10h-4v-10h-6v-2h2v-2h2v-2h2z" fill="#ff0000"/>
<text x="439" y="27" font-family="Liberation Sans" font-size="24.5" fill="#1a1f33" text-anchor="start" font-weight="normal" textLength="159" lengthAdjust="spacing">VR(26,70,250)</text>
<rect x="1196" y="2" width="28" height="2" fill="#0a6ccc"/>
<rect x="1196" y="28" width="28" height="2" fill="#0a6ccc"/>
<rect x="1196" y="2" width="2" height="28" fill="#0a6ccc"/>
<rect x="1222" y="2" width="2" height="28" fill="#0a6ccc"/>
<rect x="1208" y="6" width="4" height="6" fill="#0a6ccc"/>
<rect x="1208" y="14" width="4" height="4" fill="#0a6ccc"/>
<rect x="1208" y="20" width="4" height="6" fill="#0a6ccc"/>
<rect x="1200" y="14" width="6" height="4" fill="#0a6ccc"/>
<rect x="1214" y="14" width="6" height="4" fill="#0a6ccc"/>
<rect x="1228" y="2" width="28" height="2" fill="#0a6ccc"/>
<rect x="1228" y="28" width="28" height="2" fill="#0a6ccc"/>
<rect x="1228" y="2" width="2" height="28" fill="#0a6ccc"/>
<rect x="1254" y="2" width="2" height="28" fill="#0a6ccc"/>
<rect x="1234" y="6" width="2" height="20" fill="#0a6ccc"/>
<rect x="1232" y="8" width="6" height="2" fill="#0a6ccc"/>
<rect x="1232" y="22" width="20" height="2" fill="#0a6ccc"/>
<rect x="1248" y="20" width="2" height="6" fill="#0a6ccc"/>
<rect x="1240" y="8" width="2" height="12" fill="#0a6ccc"/>
<rect x="1242" y="12" width="4" height="4" fill="#0a6ccc"/>
<rect x="1246" y="10" width="2" height="8" fill="#0a6ccc"/>
<rect x="1260" y="2" width="28" height="28" fill="#1a7bd0"/>
<rect x="1266" y="6" width="2" height="20" fill="#fff"/>
<rect x="1264" y="8" width="6" height="2" fill="#fff"/>
<rect x="1264" y="22" width="20" height="2" fill="#fff"/>
<rect x="1280" y="20" width="2" height="6" fill="#fff"/>
<polygon points="1272,8 1274,8 1282,15 1274,22 1272,22" fill="#fff"/>
<rect x="1292" y="2" width="28" height="2" fill="#0a6ccc"/>
<rect x="1292" y="28" width="28" height="2" fill="#0a6ccc"/>
<rect x="1292" y="2" width="2" height="28" fill="#0a6ccc"/>
<rect x="1318" y="2" width="2" height="28" fill="#0a6ccc"/>
<rect x="1296" y="6" width="8" height="2" fill="#0a6ccc"/>
<rect x="1296" y="24" width="8" height="2" fill="#0a6ccc"/>
<rect x="1296" y="6" width="2" height="20" fill="#0a6ccc"/>
<rect x="1302" y="6" width="2" height="20" fill="#0a6ccc"/>
<rect x="1304" y="14" width="10" height="4" fill="#0a6ccc"/>
<polygon points="1308,10 1316,16 1308,22" fill="#0a6ccc"/>
<text x="183.5" y="787" font-family="Liberation Sans" font-size="24" fill="#15192a" text-anchor="start" font-weight="normal" textLength="173" lengthAdjust="spacing">MACD(26,12,9)</text>
<text x="364.5" y="787.5" font-family="Liberation Sans" font-size="24" fill="#3d8ef2" text-anchor="start" font-weight="normal" textLength="131" lengthAdjust="spacing">DIFF:0.0030</text>
<text x="510.5" y="787.5" font-family="Liberation Sans" font-size="24" fill="#3cba7c" text-anchor="start" font-weight="normal" textLength="130" lengthAdjust="spacing">DEA:0.0033</text>
<text x="657.5" y="787.5" font-family="Liberation Sans" font-size="24" fill="#4db4ea" text-anchor="start" font-weight="normal" textLength="166" lengthAdjust="spacing">MACD:-0.0005</text>
<text x="182.5" y="1026" font-family="Liberation Sans" font-size="24" fill="#15192a" text-anchor="start" font-weight="normal" textLength="151" lengthAdjust="spacing">RSI(14,14,14)</text>
<text x="342" y="1026.5" font-family="Liberation Sans" font-size="24" fill="#5a9df0" text-anchor="start" font-weight="normal" textLength="148" lengthAdjust="spacing">RSI1:54.4780</text>
<text x="505" y="1026.5" font-family="Liberation Sans" font-size="24" fill="#5cc384" text-anchor="start" font-weight="normal" textLength="148" lengthAdjust="spacing">RSI2:54.4780</text>
<text x="669" y="1026.5" font-family="Liberation Sans" font-size="24" fill="#5ab9ea" text-anchor="start" font-weight="normal" textLength="148" lengthAdjust="spacing">RSI3:54.4780</text>
<g stroke="#e00" stroke-width="2"><line x1="58" y1="1000" x2="58" y2="1004"/><line x1="58" y1="1022" x2="58" y2="1026"/><line x1="45" y1="1013" x2="49" y2="1013"/><line x1="67" y1="1013" x2="71" y2="1013"/><line x1="49" y1="1004" x2="51" y2="1006"/><line x1="65" y1="1006" x2="67" y2="1004"/><line x1="49" y1="1022" x2="51" y2="1020"/><line x1="65" y1="1020" x2="67" y2="1022"/></g>
<circle cx="58" cy="1013" r="6" fill="#fff" stroke="#000" stroke-width="2"/><circle cx="58" cy="1013" r="3" fill="#e00"/>
<rect x="258" y="1230" width="2" height="10" fill="#c8ced6"/>
<rect x="552" y="1230" width="2" height="10" fill="#c8ced6"/>
<rect x="860" y="1230" width="2" height="10" fill="#c8ced6"/>
<text x="261" y="1253" font-family="Liberation Sans" font-size="24.5" fill="#1c2436" text-anchor="start" font-weight="normal" textLength="91" lengthAdjust="spacing" stroke="#1c2436" stroke-width="0.75">2025/08</text>
<text x="555" y="1253" font-family="Liberation Sans" font-size="24.5" fill="#1c2436" text-anchor="start" font-weight="normal" textLength="91" lengthAdjust="spacing" stroke="#1c2436" stroke-width="0.75">2025/09</text>
<text x="863" y="1253" font-family="Liberation Sans" font-size="24.5" fill="#1c2436" text-anchor="start" font-weight="normal" textLength="91" lengthAdjust="spacing" stroke="#1c2436" stroke-width="0.75">2025/10</text>
<text x="1183" y="1253" font-family="Liberation Sans" font-size="24.5" fill="#1c2436" text-anchor="start" font-weight="normal" textLength="91" lengthAdjust="spacing" stroke="#1c2436" stroke-width="0.75">2025/11</text>
<rect x="1005" y="1230" width="220" height="32" fill="#fff" stroke="#e1e6eb" stroke-width="2"/>
<text x="1007" y="1254" font-family="Liberation Sans" font-size="23" fill="#ff8a1f" text-anchor="start" font-weight="normal" textLength="212" lengthAdjust="spacing">2025/11/06 星期四</text>
<rect x="924" y="1262" width="402" height="2" fill="#e9edf1"/>
<rect x="40" y="1268" width="676" height="2" fill="#cbd3dc"/>
<rect x="716" y="1268" width="746" height="2" fill="#e6ebf0"/>
<rect x="1102" y="1298" width="360" height="2" fill="#ccd3dc"/>
<rect x="118" y="1270" width="2" height="30" fill="#cfd6de"/>
<rect x="198" y="1270" width="2" height="30" fill="#cfd6de"/>
<rect x="314" y="1270" width="2" height="30" fill="#cfd6de"/>
<rect x="467" y="1270" width="2" height="30" fill="#cfd6de"/>
<rect x="583" y="1270" width="2" height="30" fill="#cfd6de"/>
<rect x="699" y="1270" width="2" height="30" fill="#cfd6de"/>
<rect x="803" y="1270" width="2" height="30" fill="#cfd6de"/>
<rect x="907" y="1270" width="2" height="30" fill="#cfd6de"/>
<rect x="1047" y="1276" width="2" height="24" fill="#cfd6de"/>
<rect x="1102" y="1276" width="2" height="24" fill="#cfd6de"/>
<rect x="200" y="1268" width="114" height="30" fill="#ff6a00"/>
<text x="56" y="1293" font-family="Liberation Sans" font-size="23.5" fill="#1c2536" text-anchor="start" font-weight="normal">指标</text>
<text x="136" y="1293" font-family="Liberation Sans" font-size="23.5" fill="#1c2536" text-anchor="start" font-weight="normal">模板</text>
<text x="216" y="1292" font-family="Liberation Serif" font-size="21" fill="#fff" textLength="34" lengthAdjust="spacingAndGlyphs">VIP</text>
<text x="251" y="1293" font-family="Liberation Sans" font-size="23.5" fill="#fff" text-anchor="start" font-weight="normal">指标</text>
<text x="332" y="1290" font-family="Liberation Serif" font-size="21" fill="#1c2536" textLength="120" lengthAdjust="spacingAndGlyphs">BARUPDN_UD</text>
<text x="484" y="1290" font-family="Liberation Serif" font-size="21" fill="#1c2536" textLength="83" lengthAdjust="spacingAndGlyphs">BIAS_UD</text>
<text x="600" y="1290" font-family="Liberation Serif" font-size="21" fill="#1c2536" textLength="83" lengthAdjust="spacingAndGlyphs">BOLL_UD</text>
<text x="715" y="1290" font-family="Liberation Serif" font-size="21" fill="#1c2536" textLength="72" lengthAdjust="spacingAndGlyphs">CCI_UD</text>
<text x="820" y="1290" font-family="Liberation Serif" font-size="21" fill="#1c2536" textLength="71" lengthAdjust="spacingAndGlyphs">DMI_UD</text>
<text x="923" y="1290" font-family="Liberation Serif" font-size="21" fill="#1c2536" textLength="108" lengthAdjust="spacingAndGlyphs">INSIDE_UD</text>
<text x="1064" y="1290" font-family="Liberation Serif" font-size="21" fill="#1c2536" textLength="23" lengthAdjust="spacingAndGlyphs">&gt;&gt;</text>
<rect x="40" y="1229" width="140" height="40" fill="#cfd6de"/>
<rect x="42" y="1230" width="136" height="36" fill="#fff"/>
<text x="68" y="1259" font-family="Liberation Sans" font-size="24.5" fill="#ff7f00" text-anchor="start" font-weight="bold" stroke="#ff7f00" stroke-width="0.7">日线</text>
<polygon points="128,1258 137,1242 146,1258" fill="#ff7f00"/>
<rect x="1298" y="1268" width="164" height="2" fill="#ccd3dc"/>
<rect x="1041" y="1274" width="8" height="1.5" fill="#2f3748"/>
<rect x="1055" y="1274" width="8" height="1.5" fill="#2f3748"/>
<rect x="1149" y="1274" width="8" height="1.5" fill="#2f3748"/>
<rect x="1163" y="1274" width="8" height="1.5" fill="#2f3748"/>
<rect x="1183" y="1274" width="8" height="1.5" fill="#2f3748"/>
<rect x="1197" y="1274" width="8" height="1.5" fill="#2f3748"/>
</svg>
<!-- tab bar in svg -->
<div class="a" style="left:1333px;top:1247px;font-size:31px;letter-spacing:2px;color:#dbe7f4;text-shadow:1px 1px 0 #c9b6a5;">FX678</div>
</body></html>
